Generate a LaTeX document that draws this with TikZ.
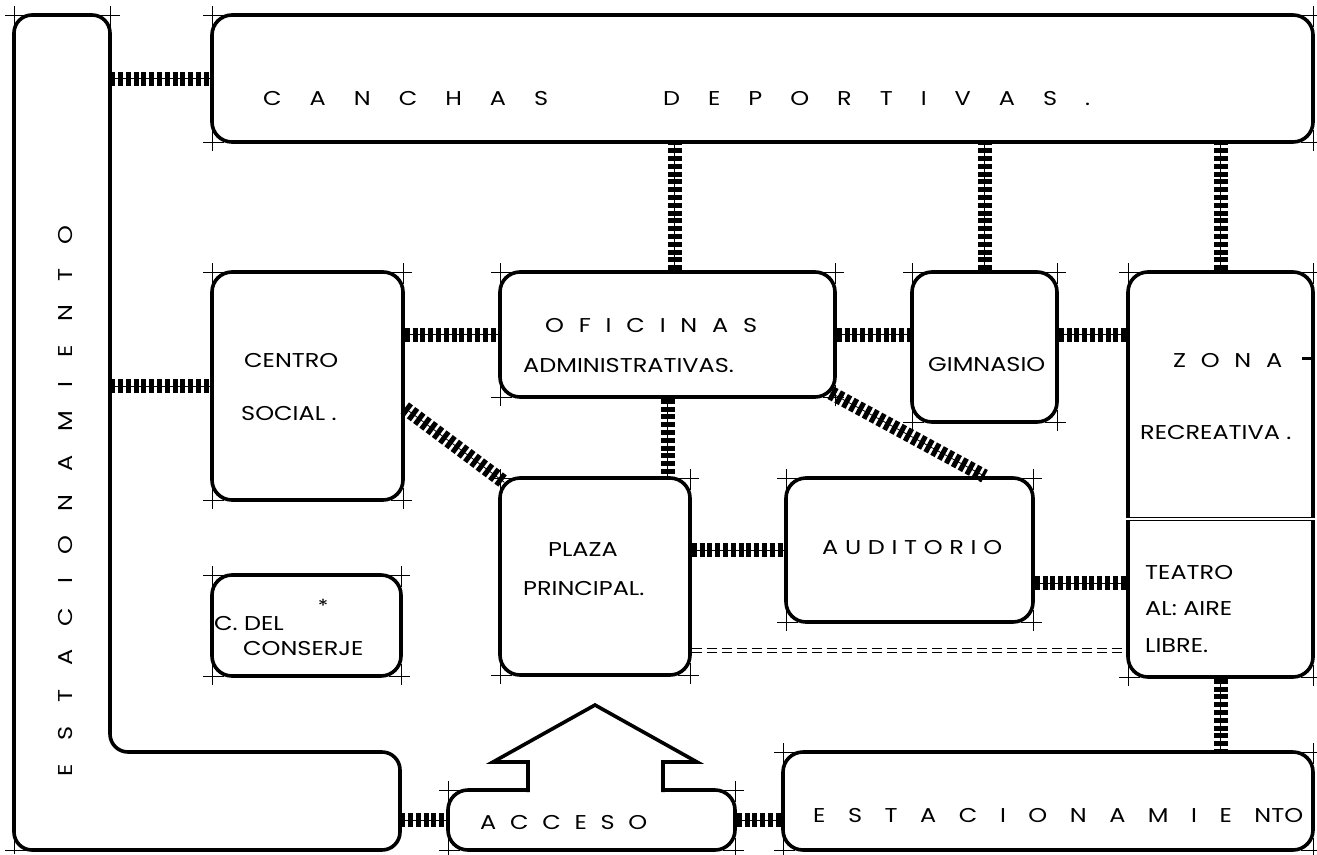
\documentclass[tikz,border=0pt]{standalone}
\usepackage{fontspec}
\setmainfont{Poppins}[FakeStretch=1.2]
\newcommand\cmk[4]{%
 \draw[tick] (#1-9,#2) -- (#1+12,#2) (#1,#2-9) -- (#1,#2+12);
 \draw[tick] (#3+9,#2) -- (#3-12,#2) (#3,#2-9) -- (#3,#2+12);
 \draw[tick] (#1-9,#4) -- (#1+12,#4) (#1,#4+9) -- (#1,#4-12);
 \draw[tick] (#3+9,#4) -- (#3-12,#4) (#3,#4+9) -- (#3,#4-12);}
\begin{document}
\begin{tikzpicture}[x=1pt,y=-1pt,
  box/.style 2 args={draw, line width=3.6pt, rounded corners=20pt, inner sep=0pt, minimum width=#1pt, minimum height=#2pt},
  ghost/.style 2 args={inner sep=0pt, minimum width=#1pt, minimum height=#2pt},
  hatch/.style={preaction={draw, line width=0.8pt, solid}, line width=14pt, dash pattern=on 5pt off 2.8pt},
  tick/.style={line width=0.5pt},
  txt/.style={inner sep=0pt, anchor=west, text height=14pt, text depth=0pt, font=\fontsize{20}{20}\selectfont}]
\useasboundingbox (0,0) rectangle (1317,854);
\fill[white] (0,0) rectangle (1317,854);

% L-shaped parking
\draw[line width=3.6pt, rounded corners=18pt] (14,15) -- (110,15) -- (110,752) -- (400,752) -- (400,850) -- (14,850) -- cycle;
\node[ghost={96}{835}] (estv) at (62,432.5) {};
\node[ghost={386}{98}] (esth) at (207,801) {};

% boxes
\node[box={1101}{127}] (can) at (762.5,78.5) {};
\node[box={191}{228}] (cs) at (307.5,386) {};
\node[box={189}{101}] (cc) at (306.5,625.5) {};
\node[box={335}{125}] (of) at (667.5,334.5) {};
\node[box={145}{150}] (gym) at (984.5,347) {};
\node[box={185}{405}] (zona) at (1220.5,474.5) {};
\node[box={190}{197}] (pl) at (595,576.5) {};
\node[box={247}{144}] (aud) at (909.5,550) {};
\node[box={287}{60}] (acc) at (591.5,820) {};
\node[box={530}{98}] (estb) at (1048,801) {};

% access arrow
\fill[white] (530,784) rectangle (661,794);
\draw[line width=3.6pt, line join=miter] (528,792) -- (528,762) -- (493,762) -- (595,705) -- (697,762) -- (663,762) -- (663,792);

% divider in zona
\coordinate (zd) at ([yshift=-44.5pt]zona.west);
\draw[double, double distance=1.6pt, line width=0.8pt] (zd) -- (zona.east |- zd);

% connectors
\draw[hatch] (estv.east |- can.west) -- (can.west);
\draw[hatch] (estv.east |- cs.west) -- (cs.west);
\coordinate (o1) at ([xshift=7pt]of.north);
\draw[hatch] (o1) -- (o1 |- can.south);
\draw[hatch] (gym.north) -- (gym.north |- can.south);
\draw[hatch] (zona.north) -- (zona.north |- can.south);
\draw[hatch] (cs.east |- of.west) -- (of.west);
\draw[hatch] (of.east) -- (gym.west |- of.east);
\draw[hatch] (gym.east |- of.east) -- (zona.west |- of.east);
\draw[hatch] ([yshift=-22pt]cs.east) -- ([shift={(6pt,-6pt)}]pl.north west);
\draw[hatch] (of.south) -- (of.south |- pl.north);
\draw[hatch] ([shift={(-6pt,6pt)}]of.south east) -- ([xshift=75pt]aud.north);
\draw[hatch] (pl.east |- aud.west) -- (aud.west);
\coordinate (a2) at ([yshift=-33pt]aud.east);
\draw[hatch] (a2) -- (zona.west |- a2);
\draw[hatch] (zona.south) -- (zona.south |- estb.north);
\draw[hatch] (esth.east |- acc.west) -- (acc.west);
\draw[hatch] (acc.east) -- (estb.west |- acc.east);

% double dashed line
\coordinate (dd) at ([yshift=-74pt]pl.east);
\draw[double, double distance=3pt, line width=0.7pt, dash pattern=on 10pt off 5pt] (dd) -- (zona.west |- dd);

% corner marks
\cmk{212}{15}{1313}{142}
\cmk{212}{272}{403}{500}
\cmk{212}{575}{401}{676}
\cmk{500}{272}{835}{397}
\cmk{912}{272}{1057}{422}
\cmk{1128}{272}{1313}{677}
\cmk{500}{478}{690}{675}
\cmk{786}{478}{1033}{622}
\cmk{448}{790}{735}{850}
\cmk{783}{752}{1313}{850}
\draw[tick] (5,15) -- (120,15) (14,6) -- (14,30) (110,6) -- (110,30);
\draw[tick] (5,850) -- (30,850) (14,835) -- (14,854);

% texts
\node[txt] (t1) at (263,98) {\makebox[285pt][s]{C A N C H A S}};
\node[txt] (t2) at (663,98) {\makebox[427pt][s]{D E P O R T I V A S .}};
\node[txt, anchor=center, rotate=90] (t3) at (65,501) {\makebox[550pt][s]{E S T A C I O N A M I E N T O}};
\node[txt] (t4) at (244,360) {CENTRO};
\node[txt] (t5) at (241,413) {SOCIAL .};
\node[txt] (t6) at (214,623) {C. DEL};
\node[txt] (t7) at (243,648) {CONSERJE};
\node[inner sep=0pt, font=\fontsize{18}{18}\selectfont] (t8) at (323,606) {*};
\node[txt] (t9) at (545,325) {\makebox[212pt][s]{O F I C I N A S}};
\node[txt] (t10) at (523,365) {ADMINISTRATIVAS.};
\node[txt] (t11) at (928,364) {GIMNASIO};
\node[txt] (t12) at (1173,360) {\makebox[109pt][s]{Z O N A}};
\draw[line width=3pt] (1302,358) -- (1312,358);
\node[txt] (t13) at (1140,432) {RECREATIVA .};
\node[txt] (t14) at (1145,572) {TEATRO};
\node[txt] (t15) at (1145,608) {AL: AIRE};
\node[txt] (t16) at (1145,645) {LIBRE.};
\node[txt] (t17) at (548,549) {PLAZA};
\node[txt] (t18) at (523,588) {PRINCIPAL.};
\node[txt] (t19) at (822,547) {\makebox[180pt][s]{A U D I T O R I O}};
\node[txt] (t20) at (480,822) {\makebox[167pt][s]{A C C E S O}};
\node[txt] (t21) at (813,815) {\makebox[490pt][s]{E S T A C I O N A M I E NTO}};
\end{tikzpicture}
\end{document}
